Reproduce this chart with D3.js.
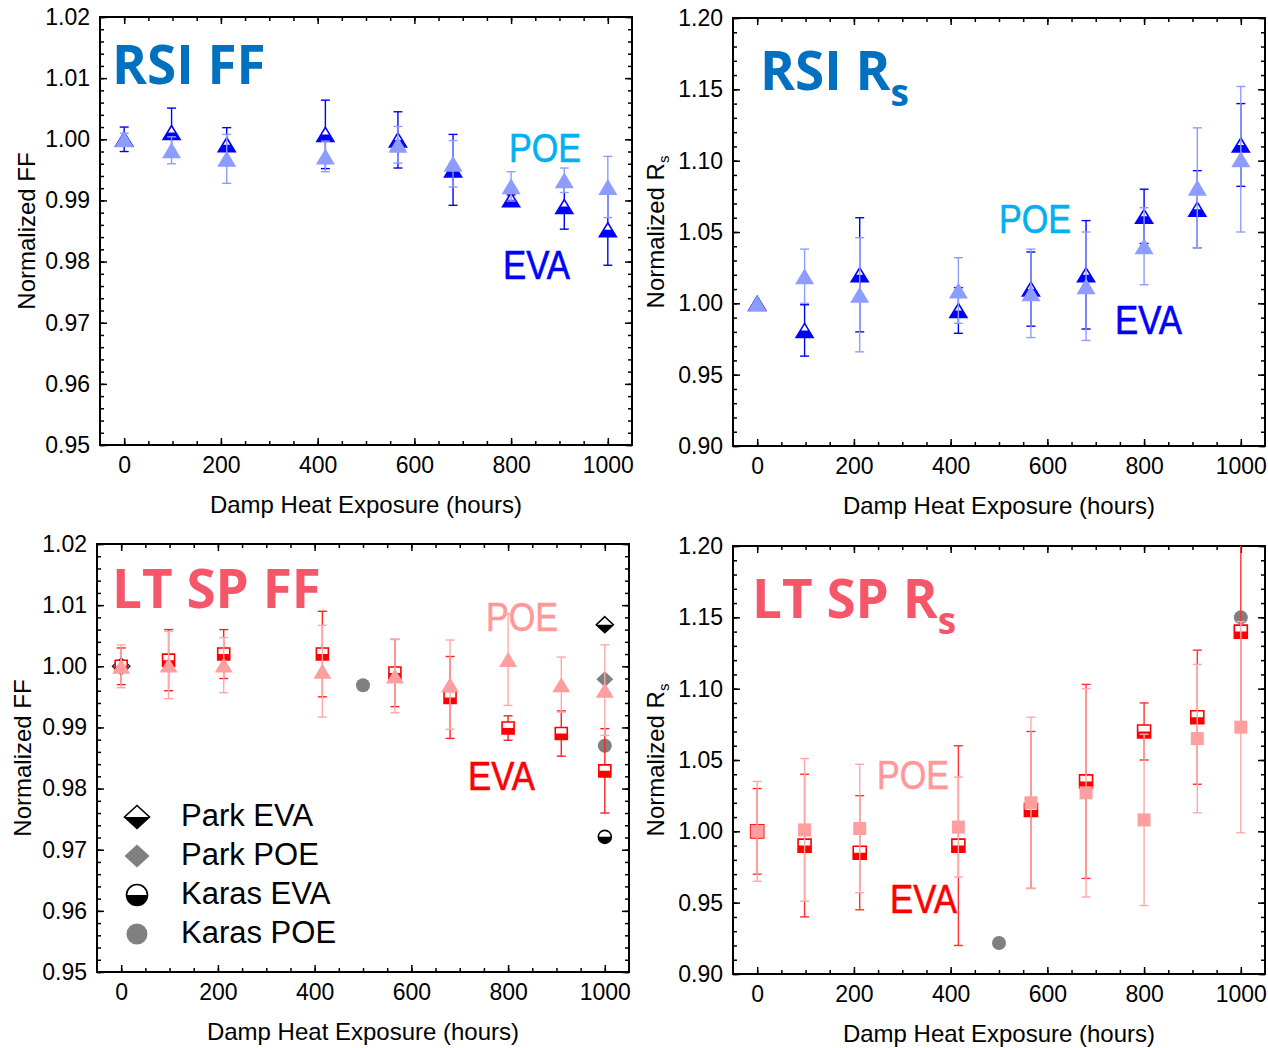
<!DOCTYPE html>
<html>
<head>
<meta charset="utf-8">
<script src="https://cdn.jsdelivr.net/npm/d3@7"></script>
<style>
  body { margin: 0; background: #fff; }
  svg text { font-family: "Liberation Sans", Arial, sans-serif; }
</style>
</head>
<body>
<svg id="chart" width="1268" height="1048"></svg>
<script>
// exposure times (hours)
const hours = [0, 98, 212, 416, 566, 680, 800, 910, 1000];
const hourTicks = [0, 200, 400, 600, 800, 1000];
const ffTicks = [0.95, 0.96, 0.97, 0.98, 0.99, 1.00, 1.01, 1.02];
const rsTicks = [0.90, 0.95, 1.00, 1.05, 1.10, 1.15, 1.20];

// RSI FF
const rsiFfEva    = [1.000, 1.0011, 0.9991, 1.0008, 0.9999, 0.9950, 0.9901, 0.9890, 0.9852];
const rsiFfEvaErr = [0.002, 0.0040, 0.0028, 0.0056, 0.0046, 0.0058, 0.0008, 0.0037, 0.0058];
const rsiFfPoe    = [1.000, 0.9982, 0.9968, 0.9972, 0.9991, 0.9960, 0.9923, 0.9933, 0.9922];
const rsiFfPoeErr = [0.001, 0.0022, 0.0040, 0.0025, 0.0030, 0.0038, 0.0024, 0.0020, 0.0050];

// RSI Rs
const rsiRsEva    = [1.000, 0.981, 1.020, 0.995, 1.010, 1.020, 1.061, 1.066, 1.111];
const rsiRsEvaErr = [0, 0.018, 0.040, 0.016, 0.026, 0.038, 0.019, 0.027, 0.029];
const rsiRsPoe    = [1.000, 1.019, 1.006, 1.009, 1.007, 1.012, 1.040, 1.081, 1.101];
const rsiRsPoeErr = [0, 0.019, 0.040, 0.023, 0.031, 0.038, 0.027, 0.042, 0.051];

// LT SP FF
const ltFfEva    = [1.000, 1.001, 1.002, 1.002, 0.9989, 0.9949, 0.9899, 0.9890, 0.9829];
const ltFfEvaErr = [0.003, 0.005, 0.004, 0.007, 0.0055, 0.0067, 0.0020, 0.0037, 0.0069];
const ltFfPoe    = [1.000, 1.0002, 1.0002, 0.9992, 0.9984, 0.9970, 1.0011, 0.9970, 0.9961];
const ltFfPoeErr = [0.0035, 0.0055, 0.0045, 0.0075, 0.0060, 0.0073, 0.0075, 0.0045, 0.0074];

// LT SP Rs
const ltRsEva    = [1.000, 0.990, 0.985, 0.990, 1.015, 1.035, 1.070, 1.080, 1.140];
const ltRsEvaErr = [0.030, 0.050, 0.040, 0.070, 0.055, 0.068, 0.020, 0.047, 0.070];
const ltRsPoe    = [1.000, 1.001, 1.002, 1.003, 1.020, 1.027, 1.008, 1.065, 1.073];
const ltRsPoeErr = [0.035, 0.050, 0.045, 0.035, 0.060, 0.073, 0.060, 0.052, 0.074];

// literature points (Park, Karas)
const parkHours = [0, 1000];
const parkFfEva = [1.000, 1.0068];
const parkFfPoe = [1.000, 0.9979];
const karasEvaHours = [1000];
const karasFfEva = [0.9721];
const karasPoeHours = [500, 1000];
const karasFfPoe = [0.9969, 0.987];
const karasRsHours = [0, 500, 1000];
const karasRsPoe = [1.000, 0.9217, 1.150];

const legendNames = ["Park EVA", "Park POE", "Karas EVA", "Karas POE"];

const svg = d3.select("#chart");

svg.append("defs").append("clipPath").attr("id", "lowerHalf")
  .append("rect").attr("x", -40).attr("y", 0).attr("width", 80).attr("height", 40);

function shapePath(shape, w, h) {
  if (shape == "tri") return `M0,${-h/2}L${w/2},${h/2}L${-w/2},${h/2}Z`;
  if (shape == "sq") return `M${-w/2},${-h/2}H${w/2}V${h/2}H${-w/2}Z`;
  if (shape == "dia") return `M0,${-h/2}L${w/2},0L0,${h/2}L${-w/2},0Z`;
  const r = w / 2;
  return `M${-r},0A${r},${r} 0 1,0 ${r},0A${r},${r} 0 1,0 ${-r},0Z`;
}

function drawMarker(g, cx, cy, o) {
  const m = g.append("g").attr("transform", `translate(${cx},${cy})`);
  const d = shapePath(o.shape, o.w, o.h);
  if (o.half) {
    m.append("path").attr("d", d).attr("fill", "#fff");
    m.append("path").attr("d", d).attr("fill", o.color).attr("clip-path", "url(#lowerHalf)");
    m.append("path").attr("d", d).attr("fill", "none").attr("stroke", o.color).attr("stroke-width", 1.6);
  } else {
    m.append("path").attr("d", d).attr("fill", o.color);
  }
}

function drawSeries(g, x, y, xs, vals, errs, o) {
  if (errs) {
    const eg = g.append("g").attr("stroke", o.errColor).attr("stroke-width", 1.4).attr("fill", "none");
    xs.forEach((h, i) => {
      if (!errs[i]) return;
      const px = x(h), top = y(vals[i] + errs[i]), bot = y(vals[i] - errs[i]);
      eg.append("line").attr("x1", px).attr("x2", px).attr("y1", top).attr("y2", bot);
      eg.append("line").attr("x1", px - 4.5).attr("x2", px + 4.5).attr("y1", top).attr("y2", top);
      eg.append("line").attr("x1", px - 4.5).attr("x2", px + 4.5).attr("y1", bot).attr("y2", bot);
    });
  }
  xs.forEach((h, i) => drawMarker(g, x(h), y(vals[i]), o));
}

function minorRange(lo, hi, step) {
  return d3.range(Math.round(lo / step), Math.round(hi / step) + 1).map(i => +(i * step).toFixed(4));
}

function makePanel(p) {
  const w = p.x1 - p.x0, h = p.y1 - p.y0;
  const x = d3.scaleLinear().domain([-50, 1050]).range([0, w]);
  const y = d3.scaleLinear().domain(p.yDom).range([h, 0]);
  const g = svg.append("g").attr("transform", `translate(${p.x0},${p.y0})`);

  const clipId = "clip-" + p.key;
  g.append("clipPath").attr("id", clipId).append("rect").attr("width", w).attr("height", h);

  const clean = s => {
    s.select(".domain").remove();
    s.selectAll("line").attr("stroke", "#000").attr("stroke-width", 1.5);
    s.attr("font-size", 23).attr("font-family", '"Liberation Sans", Arial, sans-serif');
  };
  const xMinor = minorRange(-50, 1050, 50).filter(v => v > -50 && v < 1050);
  const yMinor = minorRange(p.yDom[0], p.yDom[1], p.yMinor);

  // labelled axes
  g.append("g").attr("transform", `translate(0,${h})`)
    .call(d3.axisBottom(x).tickValues(hourTicks).tickSize(-7).tickPadding(12).tickFormat(d3.format("d"))).call(clean);
  g.append("g")
    .call(d3.axisLeft(y).tickValues(p.yTicks).tickSize(-7).tickPadding(10).tickFormat(d3.format(".2f"))).call(clean);
  // minor ticks
  g.append("g").attr("transform", `translate(0,${h})`)
    .call(d3.axisBottom(x).tickValues(xMinor).tickSize(-4).tickFormat("")).call(clean);
  g.append("g").call(d3.axisLeft(y).tickValues(yMinor).tickSize(-4).tickFormat("")).call(clean);
  // mirrored top / right
  g.append("g").call(d3.axisTop(x).tickValues(hourTicks).tickSize(-7).tickFormat("")).call(clean);
  g.append("g").call(d3.axisTop(x).tickValues(xMinor).tickSize(-4).tickFormat("")).call(clean);
  g.append("g").attr("transform", `translate(${w},0)`)
    .call(d3.axisRight(y).tickValues(p.yTicks).tickSize(-7).tickFormat("")).call(clean);
  g.append("g").attr("transform", `translate(${w},0)`)
    .call(d3.axisRight(y).tickValues(yMinor).tickSize(-4).tickFormat("")).call(clean);

  g.append("rect").attr("width", w).attr("height", h)
    .attr("fill", "none").attr("stroke", "#000").attr("stroke-width", 2);

  // axis titles
  g.append("text").attr("x", w / 2).attr("y", h + 68).attr("text-anchor", "middle")
    .attr("font-size", 24).text("Damp Heat Exposure (hours)");
  const yt = g.append("text").attr("transform", `translate(${-p.yTitleOff},${h / 2}) rotate(-90)`)
    .attr("text-anchor", "middle").attr("font-size", 24);
  if (p.rs) {
    yt.append("tspan").text("Normalized R");
    yt.append("tspan").attr("font-size", 15).attr("dy", 5).text("s");
  } else {
    yt.text("Normalized FF");
  }

  // panel title
  const tt = g.append("text").attr("x", p.title.dx).attr("y", p.title.dy)
    .attr("fill", p.title.color).attr("font-size", 53).attr("font-weight", 700)
    .style("font-family", '"Open Sans", "Noto Sans", sans-serif');
  tt.append("tspan").text(p.title.text);
  if (p.title.sub) tt.append("tspan").attr("font-size", 37).attr("dy", 16).text(p.title.sub);

  // POE / EVA labels
  p.labels.forEach(l => {
    g.append("text").attr("x", l.dx).attr("y", l.dy).attr("fill", l.color)
      .attr("stroke", l.color).attr("stroke-width", 0.6)
      .attr("font-size", 40).attr("textLength", l.len).attr("lengthAdjust", "spacingAndGlyphs").text(l.text);
  });

  const plot = g.append("g").attr("clip-path", `url(#${clipId})`);
  return { g, plot, x, y };
}

const blue = "#0000ff", lightBlue = "#8c9cff", red = "#ff0000", pink = "#ff9e9e";
const grey = "#808080", black = "#000000";

// ---- RSI FF
{
  const { plot, x, y } = makePanel({ key: "p1", x0: 100, x1: 632, y0: 17, y1: 445, yDom: [0.95, 1.02], yTicks: ffTicks,
    yMinor: 0.002, yTitleOff: 65, title: { text: "RSI FF", dx: 12, dy: 67, color: "#0070c0" },
    labels: [{ text: "POE", dx: 409, dy: 145, color: "#00b0f0", len: 72 },
             { text: "EVA", dx: 403, dy: 262, color: blue, len: 67 }] });
  drawSeries(plot, x, y, hours, rsiFfEva, rsiFfEvaErr, { shape: "tri", w: 17, h: 14, half: true, color: blue, errColor: blue });
  drawSeries(plot, x, y, hours, rsiFfPoe, rsiFfPoeErr, { shape: "tri", w: 19, h: 16, color: lightBlue, errColor: lightBlue });
}

// ---- RSI Rs
{
  const { plot, x, y } = makePanel({ key: "p2", x0: 733, x1: 1265, y0: 18, y1: 446, yDom: [0.90, 1.20], yTicks: rsTicks,
    yMinor: 0.01, yTitleOff: 69, rs: true, title: { text: "RSI R", sub: "s", dx: 27, dy: 72, color: "#0070c0" },
    labels: [{ text: "POE", dx: 266, dy: 215, color: "#00b0f0", len: 72 },
             { text: "EVA", dx: 382, dy: 316, color: blue, len: 67 }] });
  drawSeries(plot, x, y, hours, rsiRsEva, rsiRsEvaErr, { shape: "tri", w: 17, h: 14, half: true, color: blue, errColor: blue });
  drawSeries(plot, x, y, hours, rsiRsPoe, rsiRsPoeErr, { shape: "tri", w: 19, h: 16, color: lightBlue, errColor: lightBlue });
}

// ---- LT SP FF
{
  const p = { key: "p3", x0: 97, x1: 629, y0: 544, y1: 972, yDom: [0.95, 1.02], yTicks: ffTicks,
    yMinor: 0.002, yTitleOff: 66, title: { text: "LT SP FF", dx: 15, dy: 64, color: "#f5566a" },
    labels: [{ text: "POE", dx: 389, dy: 87, color: "#ff9999", len: 72 },
             { text: "EVA", dx: 371, dy: 246, color: red, len: 67 }] };
  const { g, plot, x, y } = makePanel(p);
  drawSeries(plot, x, y, parkHours, parkFfEva, null, { shape: "dia", w: 17, h: 16, half: true, color: black });
  drawSeries(plot, x, y, parkHours, parkFfPoe, null, { shape: "dia", w: 17, h: 16, color: grey });
  drawSeries(plot, x, y, karasEvaHours, karasFfEva, null, { shape: "circ", w: 13, h: 13, half: true, color: black });
  drawSeries(plot, x, y, karasPoeHours, karasFfPoe, null, { shape: "circ", w: 14, h: 14, color: grey });
  drawSeries(plot, x, y, hours, ltFfEva, ltFfEvaErr, { shape: "sq", w: 12, h: 12, half: true, color: red, errColor: "#ff2020" });
  drawSeries(plot, x, y, hours, ltFfPoe, ltFfPoeErr, { shape: "tri", w: 18, h: 15, color: pink, errColor: "#ffa8a8" });

  // legend
  const legendStyles = [
    { shape: "dia", w: 25, h: 23, half: true, color: black },
    { shape: "dia", w: 25, h: 23, color: grey },
    { shape: "circ", w: 21, h: 21, half: true, color: black },
    { shape: "circ", w: 21, h: 21, color: grey }
  ];
  legendNames.forEach((name, i) => {
    const ly = 273 + i * 39;
    drawMarker(g, 40, ly, legendStyles[i]);
    g.append("text").attr("x", 84).attr("y", ly + 9).attr("font-size", 31).text(name);
  });
}

// ---- LT SP Rs
{
  const { plot, x, y } = makePanel({ key: "p4", x0: 733, x1: 1265, y0: 546, y1: 974, yDom: [0.90, 1.20], yTicks: rsTicks,
    yMinor: 0.01, yTitleOff: 69, rs: true, title: { text: "LT SP R", sub: "s", dx: 19, dy: 72, color: "#f5566a" },
    labels: [{ text: "POE", dx: 144, dy: 243, color: "#ff9999", len: 72 },
             { text: "EVA", dx: 157, dy: 367, color: red, len: 67 }] });
  drawSeries(plot, x, y, karasRsHours, karasRsPoe, null, { shape: "circ", w: 14, h: 14, color: grey });
  drawSeries(plot, x, y, hours, ltRsEva, ltRsEvaErr, { shape: "sq", w: 13, h: 13, half: true, color: red, errColor: "#ff3030" });
  drawSeries(plot, x, y, hours, ltRsPoe, ltRsPoeErr, { shape: "sq", w: 13, h: 13, color: pink, errColor: "#ffa8a8" });
}
</script>
</body>
</html>
